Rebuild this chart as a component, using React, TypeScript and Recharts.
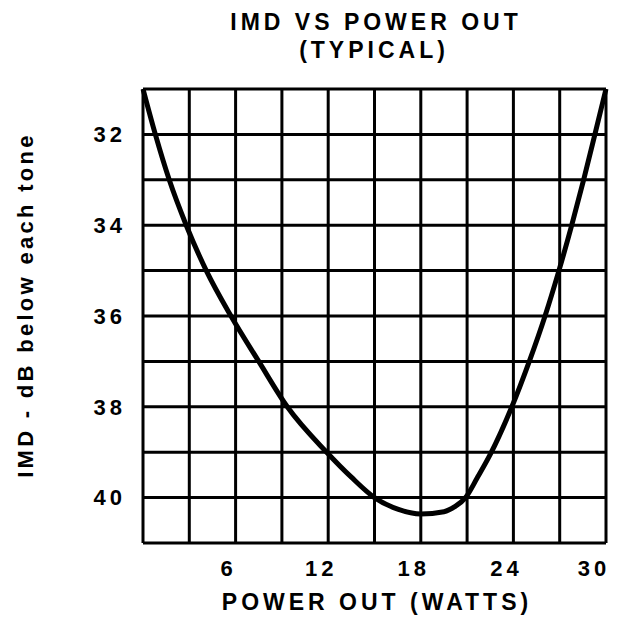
import { CartesianGrid, Line, LineChart, XAxis, YAxis } from 'recharts';

// IMD vs power out
const powerOut = [0, 0.8, 1.7, 2.8, 4.1, 5.7, 7.5, 9.35, 11.9, 13.5, 15, 16.55, 18, 19.5, 20.2, 20.9, 21.65, 22.5, 23.9, 25.03, 26.05, 26.95, 27.78, 28.55, 29.28, 30];
const imdDb = [31, 32, 33, 34, 35, 36, 37, 38, 39, 39.55, 40, 40.26, 40.36, 40.31, 40.2, 40, 39.57, 39.05, 38, 37, 36, 35, 34, 33, 32, 31];

const xTicks = [0, 3, 6, 9, 12, 15, 18, 21, 24, 27, 30];
const xLabels = [6, 12, 18, 24, 30];
const yTicks = [31, 32, 33, 34, 35, 36, 37, 38, 39, 40, 41];
const yLabels = [32, 34, 36, 38, 40];

const data = powerOut.map((p, i) => ({ power: p, imd: imdDb[i] }));

const font = "'Liberation Sans', Arial, Helvetica, sans-serif";
const titleStyle = { fontFamily: font, fontWeight: 700, fontSize: 23, letterSpacing: 4, fill: '#000' };
const tickStyle = { fontFamily: font, fontWeight: 700, fontSize: 22, letterSpacing: 4, fill: '#000' };

const App = () => (
  <LineChart
    width={608}
    height={612}
    data={data}
    margin={{ top: 81, right: 10, left: 0, bottom: 0 }}
  >
    <CartesianGrid stroke="#000" strokeWidth={3} strokeOpacity={1} />
    <XAxis
      dataKey="power"
      type="number"
      domain={[0, 30]}
      ticks={xTicks}
      tickFormatter={(v: number) => (xLabels.includes(v) ? String(v) : '')}
      axisLine={false}
      tickLine={false}
      tickSize={0}
      tickMargin={17}
      height={77}
      tick={{ ...tickStyle, dx: -7 }}
    />
    <YAxis
      type="number"
      domain={[31, 41]}
      reversed
      ticks={yTicks}
      tickFormatter={(v: number) => (yLabels.includes(v) ? String(v) : '')}
      axisLine={false}
      tickLine={false}
      tickSize={0}
      tickMargin={17}
      width={135}
      tick={tickStyle}
    />
    <Line
      dataKey="imd"
      type="monotone"
      stroke="#000"
      strokeWidth={5}
      dot={false}
      isAnimationActive={false}
    />
    <text x={368} y={22} textAnchor="middle" style={titleStyle}>IMD VS POWER OUT</text>
    <text x={366} y={50} textAnchor="middle" style={titleStyle}>(TYPICAL)</text>
    <text x={369} y={602} textAnchor="middle" style={titleStyle}>POWER OUT (WATTS)</text>
    <text
      x={25}
      y={297}
      textAnchor="middle"
      transform="rotate(-90, 25, 297)"
      style={{ ...tickStyle, letterSpacing: 3.3 }}
    >
      IMD - dB below each tone
    </text>
  </LineChart>
);

export default App;
